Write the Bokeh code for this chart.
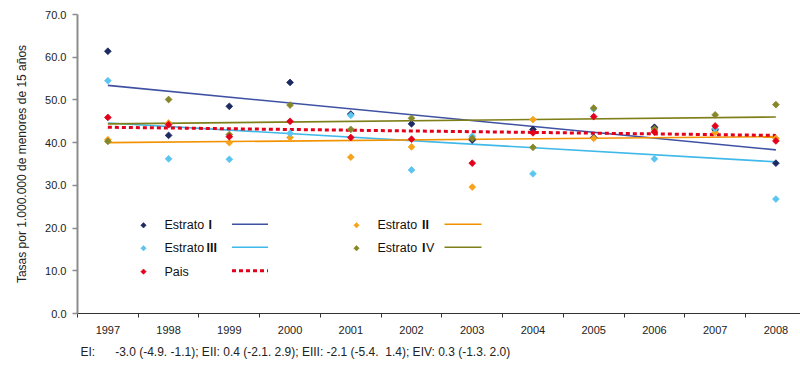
from bokeh.plotting import figure
from bokeh.models import Range1d, FixedTicker, PrintfTickFormatter, Title, ColumnDataSource
from bokeh.core.properties import value
from bokeh.embed import file_html
from bokeh.resources import INLINE
import math

# ---------------- data ----------------
years = [1997, 1998, 1999, 2000, 2001, 2002, 2003, 2004, 2005, 2006, 2007, 2008]
estrato_i   = [61.4, 41.7, 48.5, 54.1, 46.7, 44.4, 40.6, 43.1, 41.2, 43.6, 43.0, 35.2]
estrato_ii  = [40.7, 44.6, 40.0, 41.2, 36.6, 39.0, 29.6, 45.4, 41.0, 42.9, 42.4, 41.0]
estrato_iii = [54.5, 36.2, 36.1, 42.2, 46.4, 33.6, 41.5, 32.7, 47.9, 36.2, 43.3, 26.8]
estrato_iv  = [40.3, 50.1, 41.9, 48.8, 43.1, 45.7, 41.0, 38.9, 48.1, 43.2, 46.5, 48.9]
pais        = [45.9, 44.2, 41.4, 45.0, 41.2, 40.8, 35.2, 42.3, 46.1, 42.5, 43.9, 40.4]

# linear trend lines (value at first and last year)
trend_i   = [53.4, 38.3]
trend_ii  = [40.0, 41.4]
trend_iii = [44.6, 35.5]
trend_iv  = [44.4, 46.0]
trend_pais = [43.6, 41.7]

y_ticks = [0, 10, 20, 30, 40, 50, 60, 70]
y_title = "Tasas por 1.000.000 de menores de 15 años"
footnote = ("EI:\u00a0\u00a0\u00a0\u00a0\u00a0\u00a0-3.0 (-4.9. -1.1); EII: 0.4 (-2.1. 2.9); "
            "EIII: -2.1 (-5.4.\u00a0 1.4); EIV: 0.3 (-1.3. 2.0)")

# ---------------- styles ----------------
FONT = "Liberation Sans"
C_I_DOT, C_I_LINE = "#1B2A63", "#3F51A3"
C_II_DOT, C_II_LINE = "#F7A21B", "#F39200"
C_III_DOT, C_III_LINE = "#5BC5F0", "#3FB8EA"
C_IV_DOT, C_IV_LINE = "#86862A", "#7F7F1A"
C_PAIS = "#E3001B"

FRAME_L, FRAME_T, FRAME_B = 77, 14, 314
W, H = 800, 365
PX_PER_YEAR = 60.73
x_start = 1996.5
x_end = x_start + (W - FRAME_L) / PX_PER_YEAR

p = figure(width=W, height=H,
           x_range=Range1d(x_start, x_end), y_range=Range1d(0, 70),
           output_backend="svg", toolbar_location=None,
           min_border_left=FRAME_L, min_border_right=0, min_border_top=FRAME_T,
           min_border_bottom=H - FRAME_B)
p.outline_line_color = None
p.xgrid.visible = False
p.ygrid.visible = False
p.background_fill_color = "white"

# axes
p.yaxis.ticker = FixedTicker(ticks=y_ticks, minor_ticks=[])
p.yaxis.formatter = PrintfTickFormatter(format="%.1f")
p.yaxis.axis_line_color = "#8C8C8C"
p.yaxis.axis_line_width = 2
p.yaxis.major_tick_line_color = "#8C8C8C"
p.yaxis.major_tick_line_width = 1.5
p.yaxis.major_tick_out = 5
p.yaxis.major_tick_in = 0
p.yaxis.minor_tick_line_color = None
p.yaxis.major_label_standoff = 6
p.yaxis.major_label_text_font = FONT
p.yaxis.major_label_text_font_size = "11px"
p.yaxis.major_label_text_color = "#222222"
p.yaxis.axis_label = y_title
p.yaxis.axis_label_text_font = FONT
p.yaxis.axis_label_text_font_size = "12px"
p.yaxis.axis_label_text_font_style = "normal"
p.yaxis.axis_label_text_color = "#222222"
p.yaxis.axis_label_standoff = 13

half_years = [y - 0.5 for y in years] + [years[-1] + 0.5]
p.xaxis.ticker = FixedTicker(ticks=years, minor_ticks=half_years)
p.xaxis.axis_line_color = "#333333"
p.xaxis.axis_line_width = 1
p.xaxis.major_tick_out = 0
p.xaxis.major_tick_in = 0
p.xaxis.minor_tick_out = 4
p.xaxis.minor_tick_in = 0
p.xaxis.minor_tick_line_color = "#333333"
p.xaxis.major_label_standoff = 8
p.xaxis.major_label_text_font = FONT
p.xaxis.major_label_text_font_size = "11px"
p.xaxis.major_label_text_color = "#222222"

# trend lines
x_ends = [years[0], years[-1]]
p.line(x_ends, trend_i, line_color=C_I_LINE, line_width=1.6)
p.line(x_ends, trend_iii, line_color=C_III_LINE, line_width=1.6)
p.line(x_ends, trend_iv, line_color=C_IV_LINE, line_width=1.6)
p.line(x_ends, trend_ii, line_color=C_II_LINE, line_width=1.6)
p.line(x_ends, trend_pais, line_color=C_PAIS, line_width=3, line_dash="4 3")

# data points
MS = 4.8
ANG = math.pi / 4
for vals, col in [(estrato_i, C_I_DOT), (estrato_ii, C_II_DOT), (estrato_iii, C_III_DOT),
                  (estrato_iv, C_IV_DOT), (pais, C_PAIS)]:
    src = ColumnDataSource(dict(x=years, y=vals))
    p.scatter("x", "y", source=src, marker="square", angle=ANG, size=MS,
              fill_color=col, line_color=col, line_width=0.8)

# ---------------- custom legend (positions in page pixels) ----------------
def px_x(px):
    return x_start + (px - FRAME_L) / PX_PER_YEAR

def px_y(py):
    return (FRAME_B - py) / ((FRAME_B - FRAME_T) / 70.0)

legend_rows = [
    (143, 225.5, "Estrato", [(44, "I", "bold")], C_I_DOT, C_I_LINE, "solid", 1.6, 231.5, 267.5),
    (143, 248.5, "Estrato", [(42, "III", "bold")], C_III_DOT, C_III_LINE, "solid", 1.6, 231.5, 267.5),
    (143, 272.0, "Pais", [], C_PAIS, C_PAIS, "4 3", 3, 231.5, 267.5),
    (356, 225.5, "Estrato", [(44.5, "II", "bold")], C_II_DOT, C_II_LINE, "solid", 1.6, 444, 481),
    (356, 248.5, "Estrato", [(44.5, "I", "bold"), (48.5, "V", "normal")], C_IV_DOT, C_IV_LINE, "solid", 1.6, 444, 481),
]
for mx, ry, txt, parts, dcol, lcol, dash, lw, lx0, lx1 in legend_rows:
    p.scatter([px_x(mx)], [px_y(ry)], marker="square", angle=ANG, size=3.8,
              fill_color=dcol, line_color=dcol, line_width=0.6)
    tx = mx + 21
    p.text([px_x(tx)], [px_y(ry)], text=[txt], text_font=value(FONT), text_font_size="12.5px",
           text_baseline="middle", text_align="left", text_color="#111111")
    for off, s, style in parts:
        p.text([px_x(tx + off)], [px_y(ry)], text=[s], text_font=value(FONT), text_font_size="12.5px",
               text_font_style=style, text_baseline="middle", text_align="left", text_color="#111111")
    p.line([px_x(lx0), px_x(lx1)], [px_y(ry - 1), px_y(ry - 1)], line_color=lcol,
           line_width=lw, line_dash=dash)

# footnote
p.add_layout(Title(text=footnote, align="left", offset=3, standoff=13,
                   text_font=FONT, text_font_size="12px", text_font_style="normal",
                   text_color="#222222"), "below")

open("out.html", "w").write(file_html(p, INLINE))
